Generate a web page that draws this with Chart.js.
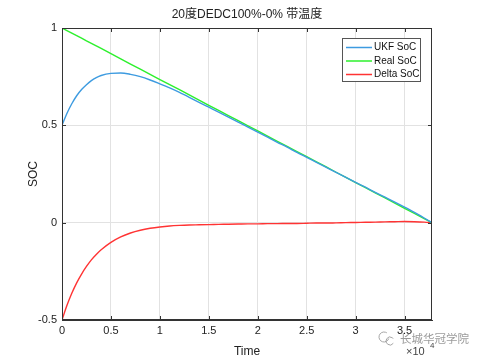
<!DOCTYPE html>
<html><head><meta charset="utf-8">
<script src="https://cdn.jsdelivr.net/npm/chart.js@4.4.1/dist/chart.umd.min.js"></script>
<style>html,body{margin:0;padding:0;background:#fff;}canvas{display:block;}</style>
</head><body>
<canvas id="c" width="479" height="359"></canvas>
<script>
const titleText = "20度DEDC100%-0% 带温度";
const xLabel = "Time";
const yLabel = "SOC";
const seriesNames = ["UKF SoC", "Real SoC", "Delta SoC"];
const seriesColors = ["#3d9be0", "#2cf02c", "#ff3333"];
// time in units of 1e4
const timeVals = [0,0.05,0.1,0.15,0.2,0.25,0.3,0.35,0.4,0.5,0.6,0.7,0.8,0.9,1.0,1.1,1.2,1.3,1.4,1.5,1.6,1.7,1.8,1.9,2.0,2.1,2.2,2.3,2.4,2.5,2.6,2.7,2.8,2.9,3.0,3.1,3.2,3.3,3.4,3.5,3.6,3.7,3.78];
const realSoc = [1.000,0.987,0.974,0.961,0.948,0.934,0.921,0.908,0.895,0.868,0.842,0.815,0.789,0.762,0.735,0.709,0.683,0.656,0.630,0.603,0.577,0.550,0.524,0.497,0.471,0.444,0.418,0.392,0.365,0.339,0.312,0.286,0.259,0.233,0.206,0.180,0.153,0.127,0.101,0.074,0.048,0.021,0.000];
const ukfSoc = [0.500,0.561,0.611,0.652,0.684,0.709,0.730,0.745,0.756,0.767,0.769,0.762,0.750,0.733,0.713,0.692,0.669,0.644,0.618,0.593,0.568,0.542,0.517,0.491,0.465,0.439,0.413,0.388,0.361,0.336,0.310,0.284,0.258,0.233,0.207,0.182,0.156,0.131,0.106,0.080,0.053,0.024,0.000];
const deltaSoc = [-0.500,-0.426,-0.363,-0.309,-0.264,-0.225,-0.191,-0.163,-0.139,-0.101,-0.073,-0.053,-0.039,-0.029,-0.022,-0.017,-0.014,-0.012,-0.011,-0.010,-0.009,-0.008,-0.007,-0.006,-0.006,-0.005,-0.005,-0.004,-0.004,-0.003,-0.002,-0.002,-0.001,0.000,0.001,0.002,0.003,0.004,0.005,0.006,0.005,0.003,0.000];
const xTicks = [0, 0.5, 1, 1.5, 2, 2.5, 3, 3.5];
const yTicks = [-0.5, 0, 0.5, 1];
const watermark = "长城华冠学院";

const FONT = "'Liberation Sans', Arial, sans-serif";
const mk = arr => timeVals.map((t, i) => ({x: t, y: arr[i]}));

const decor = {
  id: 'decor',
  afterDraw(chart) {
    const ctx = chart.ctx, a = chart.chartArea;
    const xs = chart.scales.x, ys = chart.scales.y;
    ctx.save();
    ctx.strokeStyle = '#333'; ctx.lineWidth = 1;
    ctx.strokeRect(a.left + 0.5, a.top + 0.5, a.right - a.left - 1, a.bottom - a.top - 1);
    ctx.beginPath();
    xs.ticks.forEach(t => {
      const px = Math.round(xs.getPixelForValue(t.value)) + 0.5;
      ctx.moveTo(px, a.bottom); ctx.lineTo(px, a.bottom - 4);
      ctx.moveTo(px, a.top); ctx.lineTo(px, a.top + 4);
    });
    ys.ticks.forEach(t => {
      const py = Math.round(ys.getPixelForValue(t.value)) + 0.5;
      ctx.moveTo(a.left, py); ctx.lineTo(a.left + 4, py);
      ctx.moveTo(a.right, py); ctx.lineTo(a.right - 4, py);
    });
    ctx.stroke();
    // title
    ctx.fillStyle = '#222';
    ctx.font = "12px " + FONT + ", 'Noto Sans CJK SC'";
    ctx.textAlign = 'center'; ctx.textBaseline = 'middle';
    ctx.fillText(titleText, (a.left + a.right) / 2, 15);
    // exponent
    ctx.font = "11px " + FONT;
    ctx.textAlign = 'left';
    ctx.fillStyle = '#444';
    ctx.fillText("×10", 406, 352);
    ctx.font = "8px " + FONT;
    ctx.fillText("4", 430, 346);
    // legend
    const lx = 342, ly = 38, lw = 78, lh = 43;
    ctx.fillStyle = '#fff';
    ctx.fillRect(lx, ly, lw, lh);
    ctx.strokeStyle = '#555';
    ctx.strokeRect(lx + 0.5, ly + 0.5, lw, lh);
    ctx.font = "10px " + FONT;
    ctx.textBaseline = 'middle';
    seriesNames.forEach((n, i) => {
      const yy = ly + 9.5 + i * 13.5;
      ctx.strokeStyle = seriesColors[i]; ctx.lineWidth = 1.5;
      ctx.beginPath(); ctx.moveTo(lx + 4, yy); ctx.lineTo(lx + 30, yy); ctx.stroke();
      ctx.fillStyle = '#111';
      ctx.fillText(n, lx + 32, yy);
    });
    // watermark
    ctx.fillStyle = 'rgba(130,130,130,0.8)';
    ctx.font = "11.5px 'Noto Sans CJK SC'";
    ctx.textAlign = 'left';
    ctx.fillText(watermark, 400, 339);
    ctx.strokeStyle = 'rgba(150,150,150,0.85)'; ctx.lineWidth = 1;
    ctx.beginPath(); ctx.arc(384, 337, 5, 0.3, Math.PI * 1.7); ctx.stroke();
    ctx.beginPath(); ctx.arc(390, 341, 4, 0.6, Math.PI * 1.8); ctx.stroke();
    ctx.restore();
  }
};

new Chart(document.getElementById('c'), {
  type: 'line',
  data: {
    datasets: [
      {label: seriesNames[0], data: mk(ukfSoc), borderColor: seriesColors[0], borderWidth: 1.4, pointRadius: 0, cubicInterpolationMode: 'monotone'},
      {label: seriesNames[1], data: mk(realSoc), borderColor: seriesColors[1], borderWidth: 1.4, pointRadius: 0, tension: 0},
      {label: seriesNames[2], data: mk(deltaSoc), borderColor: seriesColors[2], borderWidth: 1.4, pointRadius: 0, cubicInterpolationMode: 'monotone'}
    ]
  },
  options: {
    responsive: false, animation: false,
    layout: {padding: {top: 28, right: 47, left: 26, bottom: 0}},
    plugins: {legend: {display: false}, title: {display: false}, tooltip: {enabled: false}},
    scales: {
      x: {
        type: 'linear', min: 0, max: 3.78,
        ticks: {color: '#222', font: {family: FONT, size: 11}, padding: 4, maxRotation: 0, autoSkip: false,
          callback: v => String(v)},
        afterBuildTicks: s => { s.ticks = xTicks.map(v => ({value: v})); },
        grid: {color: '#e2e2e2', drawTicks: false},
        border: {color: '#333'},
        title: {display: true, text: xLabel, color: '#222', font: {family: FONT, size: 12}, padding: {top: 2, bottom: 0}},
        afterFit: s => { s.height = 39; }
      },
      y: {
        min: -0.5, max: 1,
        ticks: {color: '#222', font: {family: FONT, size: 11}, padding: 5, autoSkip: false, callback: v => String(v)},
        afterBuildTicks: s => { s.ticks = yTicks.map(v => ({value: v})); },
        grid: {color: '#e2e2e2', drawTicks: false},
        border: {color: '#333'},
        title: {display: true, text: yLabel, color: '#222', font: {family: FONT, size: 12}, padding: {top: 0, bottom: 0}},
        afterFit: s => { s.width = 36; }
      }
    }
  },
  plugins: [decor]
});
</script>
</body></html>
